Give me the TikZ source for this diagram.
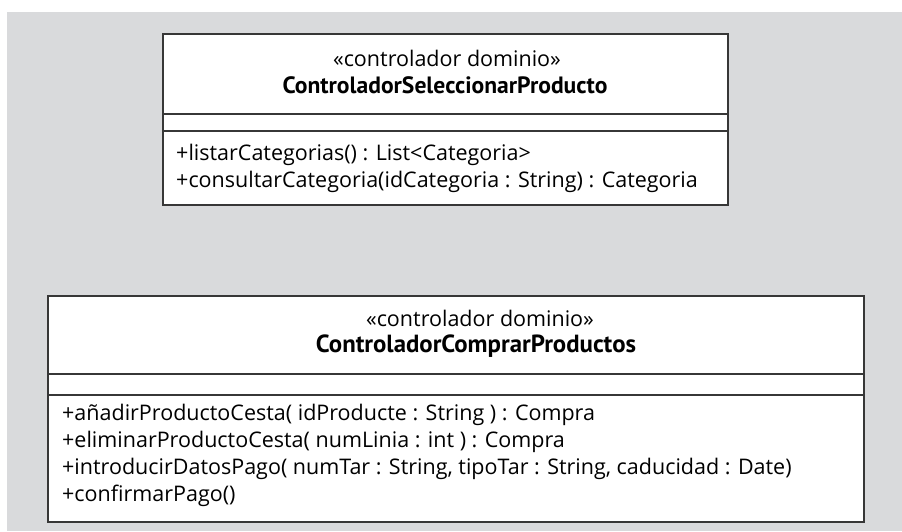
\documentclass[tikz,border=0pt]{standalone}
\usepackage{fontspec}
\setmainfont{Open Sans}
\newfontfamily\titlefont{PT Sans}
\definecolor{panel}{RGB}{217,218,220}
\definecolor{rule}{RGB}{55,55,55}
\begin{document}
\begin{tikzpicture}[x=1pt,y=-1pt,
  classbox/.style={draw=rule, line width=1.4pt, fill=white, inner sep=0pt},
  txt/.style={inner sep=0pt, font=\fontsize{21.5}{26}\selectfont},
  stereo/.style={txt, anchor=base},
  cname/.style={txt, anchor=base, font=\titlefont\fontsize{#1}{28}\selectfont\bfseries},
  oper/.style={txt, anchor=base west},
  sep/.style={draw=rule, line width=1.4pt}]
  \useasboundingbox (0,0) rectangle (902,531);
  \fill[white] (0,0) rectangle (902,531);
  \fill[panel] (7,12) rectangle (902,531);

  % upper class
  \node[classbox, minimum width=565pt, minimum height=171pt] (sel) at (445.5,119.5) {};
  \draw[sep] (sel.west |- 0,114) coordinate (s1a) -- (sel.east |- 0,114) coordinate (s1b);
  \draw[sep] (sel.west |- 0,131) coordinate (s2a) -- (sel.east |- 0,131) coordinate (s2b);
  \node[stereo] (selst) at (447,66) {«controlador dominio»};
  \node[cname=23.6] (selnm) at (445,93) {ControladorSeleccionarProducto};
  \node[oper] (selop1) at (176,160) {+listarCategorias() : List<Categoria>};
  \node[oper] (selop2) at (176,187) {+consultarCategoria(idCategoria : String) : Categoria};

  % lower class
  \node[classbox, minimum width=816pt, minimum height=226pt] (comp) at (456,409) {};
  \draw[sep] (comp.west |- 0,374) coordinate (c1a) -- (comp.east |- 0,374) coordinate (c1b);
  \draw[sep] (comp.west |- 0,395) coordinate (c2a) -- (comp.east |- 0,395) coordinate (c2b);
  \node[stereo] (compst) at (480,326) {«controlador dominio»};
  \node[cname=24.8] (compnm) at (476,352) {ControladorComprarProductos};
  \node[oper] (compop1) at (62,420) {+añadirProductoCesta( idProducte : String ) : Compra};
  \node[oper] (compop2) at (62,447) {+eliminarProductoCesta( numLinia : int ) : Compra};
  \node[oper] (compop3) at (62,474) {+introducirDatosPago( numTar : String, tipoTar : String, caducidad : Date)};
  \node[oper] (compop4) at (62,501) {+confirmarPago()};
\end{tikzpicture}
\end{document}
